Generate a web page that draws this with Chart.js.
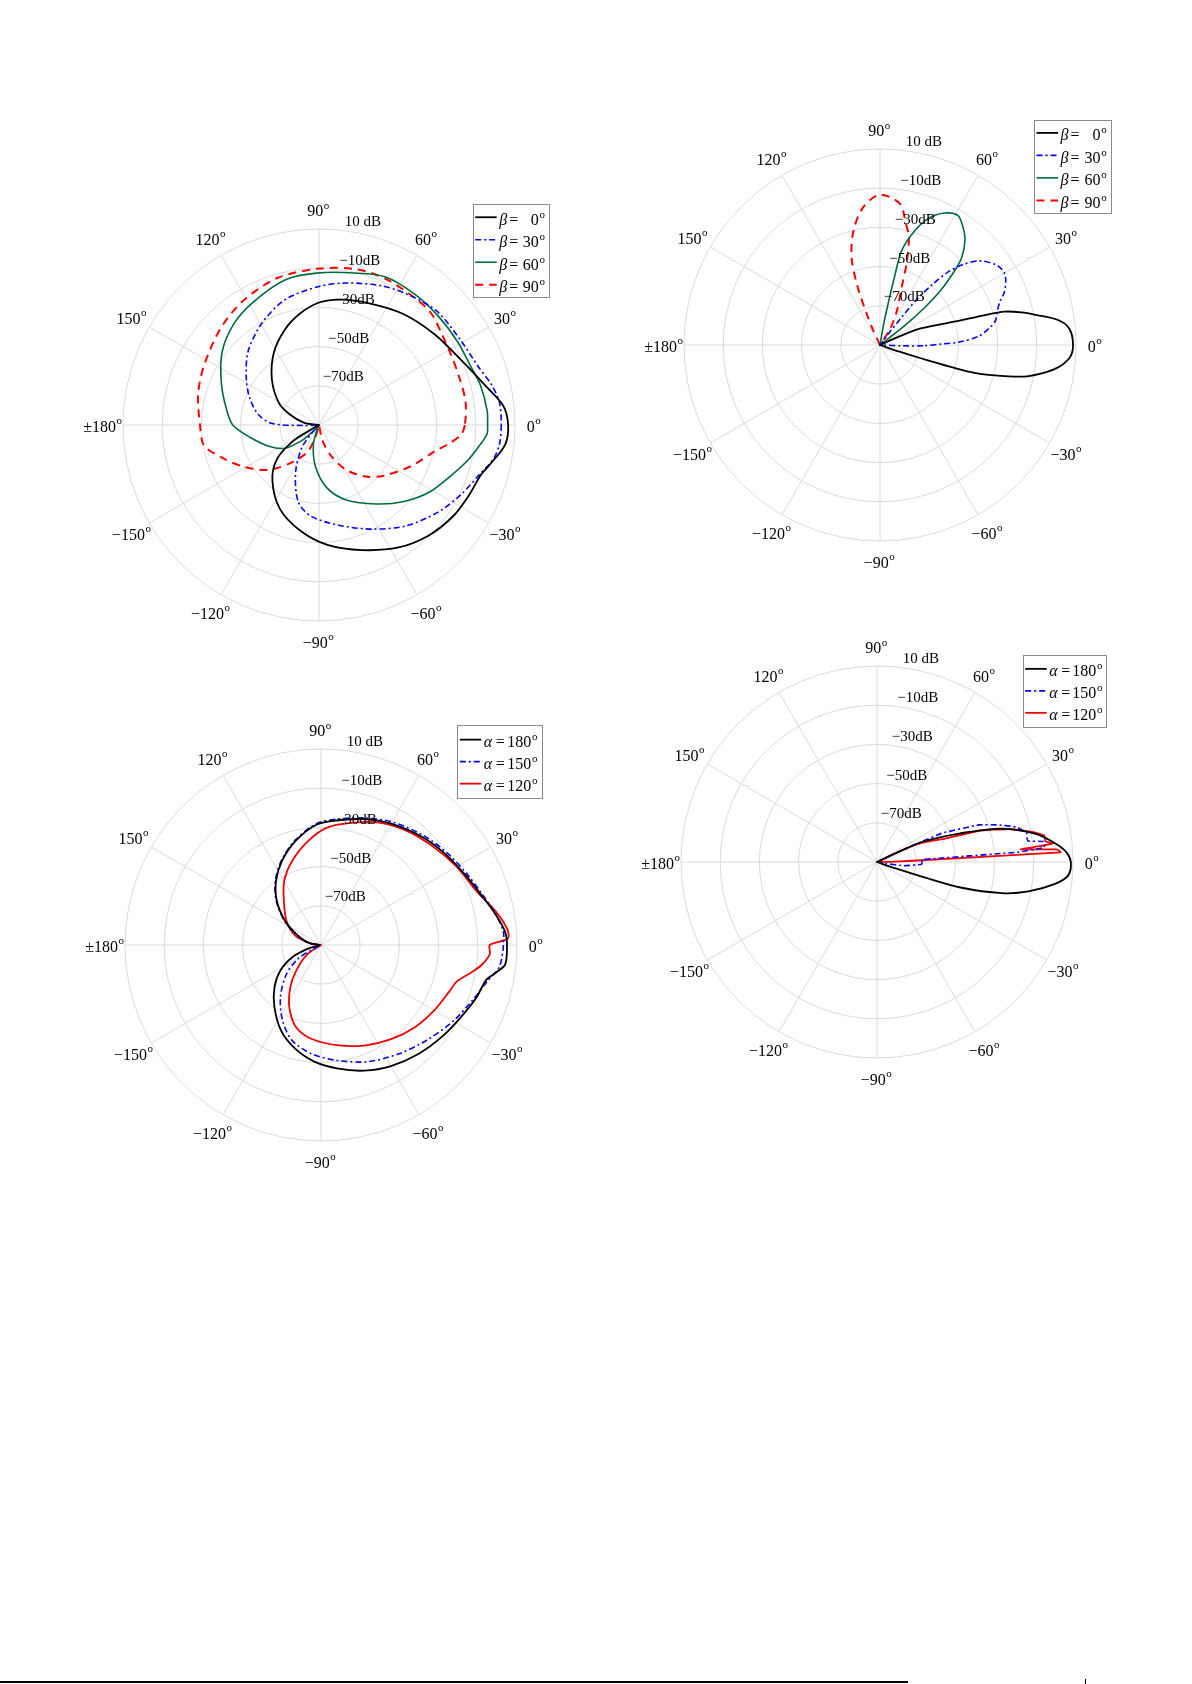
<!DOCTYPE html>
<html>
<head>
<meta charset="utf-8">
<script src="https://cdn.jsdelivr.net/npm/chart.js@4/dist/chart.umd.min.js"></script>
<style>
html,body{margin:0;padding:0;background:#fff;}
body{width:1192px;height:1684px;position:relative;overflow:hidden;}
canvas{position:absolute;}
#rule{position:absolute;left:0;top:1681px;width:908px;height:2px;background:#000;}
#tick{position:absolute;left:1085px;top:1679px;width:1px;height:5px;background:#000;}
</style>
</head>
<body>
<canvas id="tl" width="596" height="640" style="left:0px;top:105px"></canvas>
<canvas id="tr" width="596" height="640" style="left:596px;top:25px"></canvas>
<canvas id="bl" width="596" height="640" style="left:0px;top:625px"></canvas>
<canvas id="br" width="596" height="640" style="left:596px;top:542px"></canvas>
<div id="rule"></div><div id="tick"></div>
<script>
// ---------- axis definitions ----------
const ANGLE_TICKS = [0, 30, 60, 90, 120, 150, 180, -150, -120, -90, -60, -30];
const ANGLE_TEXT  = ['0', '30', '60', '90', '120', '150', '\u00b1180', '\u2212150', '\u2212120', '\u221290', '\u221260', '\u221230'];
const RING_VALUES = [10, -10, -30, -50, -70];
const RING_TEXT   = ['10 dB', '\u221210dB', '\u221230dB', '\u221250dB', '\u221270dB'];
const R_MIN = -90, R_MAX = 10, R_STEP = 20;

// ---------- legend values ----------
const BETA_VALUES  = ['0', '30', '60', '90'];
const ALPHA_VALUES = ['180', '150', '120'];

// ---------- series: [angle in degrees, level in dB] ----------
// Top-left
const TL_BETA0 = [[0,6.5],[6,4.5],[13,-2.5],[24,-10],[38,-15.0],[53,-18.9],[68,-22.9],[80,-25],[90,-27.5],[100,-32.5],[110,-38.5],[122,-46.5],[136,-56.6],[151,-66.5],[160,-74],[171,-82.1],[177,-89],[180,-90],[-153,-90],[-150,-84],[-148,-74],[-141,-62.4],[-130,-53.0],[-115,-42.8],[-100,-35.2],[-86,-28.7],[-71,-22.5],[-57,-15.5],[-45,-10.5],[-34,-7.2],[-25,-5.5],[-17,-3.5],[-13,-0.5],[-6,5.5]];
const TL_BETA30 = [[0,3.0],[7,2.8],[13,0.5],[20,-3.4],[31,-5.8],[44,-6.4],[56,-9.5],[66,-12.2],[79,-16.2],[90,-19.3],[105,-23.7],[119,-30.3],[134,-37.9],[148,-46.3],[159,-52.2],[170,-58.5],[178,-65.6],[-178,-82],[-176,-90],[-134,-90],[-131,-84],[-127,-75.2],[-116,-62.7],[-105,-49.3],[-95,-43.3],[-79,-37.9],[-63,-30.4],[-49,-21.9],[-36,-14.6],[-26,-9.3],[-17,-4.2],[-11,0.7],[-6,2.6]];
const TL_BETA60 = [[0,-4.0],[5,-3.9],[14,-5.2],[21,-7.0],[31,-7.5],[43,-7.6],[54,-7.3],[66,-7.2],[77,-10.4],[90,-12.4],[103,-13.9],[118,-18.8],[130,-22.5],[143,-28.1],[157,-35.9],[170,-42],[180,-46],[-170,-54.2],[-157,-62.3],[-146,-68.8],[-137,-79.3],[-131,-88],[-125,-90],[-113,-88],[-106,-79.6],[-95,-68.9],[-83,-57.8],[-70,-49.3],[-54,-40.2],[-42,-31.7],[-31,-23.9],[-20,-17.2],[-13,-11.7],[-7,-7.2],[-3,-4.1]];
const TL_BETA90 = [[0,-15.6],[9,-14.3],[19,-14.4],[28,-13.7],[37,-11.9],[45,-9.2],[53,-8.8],[65,-8.1],[76,-8.2],[90,-10.2],[106,-12.1],[122,-15.9],[136,-19.8],[153,-24.0],[166,-26.4],[180,-29.3],[-170,-30.4],[-161,-38.1],[-150,-46.8],[-138,-55.8],[-126,-66.4],[-113,-75.1],[-107,-83.3],[-102,-90],[-82,-90],[-77,-81.5],[-69,-73.4],[-59,-63.4],[-48,-54.6],[-38,-48],[-24,-38.5],[-13,-29.7],[-8,-22.8],[-4,-17.4]];
// Top-right
const TR_BETA0 = [[-21,-90],[-19,-79.9],[-18,-67.7],[-17,-47.5],[-16,-36],[-14,-24.4],[-12,-13.2],[-8,-0.4],[-4,6.8],[0,8.5],[5,6.9],[8,1.7],[11,-9.2],[13,-16],[15,-24.2],[16,-35],[17,-47.5],[22,-67.1],[24,-79.5],[26,-90]];
const TR_BETA30 = [[-4,-90],[-2,-78],[-1,-68],[1,-58],[2,-50],[5,-39.6],[9,-33.3],[12,-29.7],[16,-27.8],[20,-24.8],[23,-21.1],[27,-18],[30,-16.7],[34,-17.6],[40,-23.2],[44,-30.8],[47,-39],[49,-48.6],[51,-59.4],[52,-72],[53,-82],[55,-90]];
const TR_BETA60 = [[36,-90],[38,-75],[40,-60],[42,-48.3],[45,-35.7],[47,-28.8],[51,-21.1],[55,-16.3],[59,-12.9],[64,-15.1],[69,-20.8],[73,-28.9],[77,-40.3],[78,-54.4],[79,-70.1],[80,-78.8],[82,-90]];
const TR_BETA90 = [[52,-90],[58,-80],[64,-70],[69,-60],[72,-46],[75,-33],[78,-26.6],[82,-17.2],[90,-13.3],[97,-19.3],[103,-30],[108,-43],[111,-58],[113,-72],[115,-82],[118,-90]];
// Bottom-left
const BL_ALPHA180 = [[0,4.9],[4,4.2],[10,0.4],[18,-4.7],[26,-8.2],[36,-11.3],[47,-14.5],[60,-18.5],[71,-22.1],[82,-25.8],[92,-28.5],[104,-35.5],[115,-42.8],[125,-50],[135,-58.1],[146,-67.7],[156,-76.1],[169,-83],[178,-89],[-172,-89],[-164,-82.8],[-157,-74.1],[-148,-65.6],[-138,-58.1],[-127,-50.5],[-115,-41.8],[-104,-35.5],[-93,-30.3],[-82,-26.3],[-71,-22.2],[-60,-18.7],[-48,-15.4],[-37,-12.5],[-27,-9.6],[-19,-6.4],[-12,-3.9],[-9,0.3],[-6,4.5]];
const BL_ALPHA150 = [[0,3.0],[4,3.3],[10,0.5],[18,-4],[26,-7.2],[36,-10.3],[47,-13.5],[60,-17.5],[71,-21.5],[82,-25],[92,-28],[104,-35],[115,-42.3],[125,-49.5],[135,-57.6],[146,-67.2],[156,-75.6],[169,-82.5],[178,-89],[-160,-90],[-153,-84.5],[-149,-76.3],[-140,-67],[-128,-56.4],[-117,-46.8],[-107,-39.2],[-95,-34.3],[-82,-30.5],[-68,-25.8],[-54,-21.6],[-42,-17.4],[-30,-12.2],[-20,-7.7],[-12,-2.9],[-7,1.7],[-1,3]];
const BL_ALPHA120 = [[2,5.4],[5,5.3],[11,0.7],[19,-6],[30,-10.1],[41,-13.8],[53,-17.1],[64,-20.6],[75,-25.4],[87,-30],[97,-36.5],[109,-44.7],[120,-52.4],[130,-60.5],[145,-68.5],[160,-76],[172,-85],[180,-90],[-155,-90],[-146,-81.8],[-134,-71.7],[-126,-63.4],[-117,-54.4],[-107,-46.2],[-96,-41.9],[-80,-38],[-66,-34],[-53,-30],[-41,-26.3],[-30,-23.3],[-20,-20.4],[-15,-18.2],[-10,-11.6],[-7,-7.3],[-3,-3.7],[0,-3.9]];
// Bottom-right
const BR_ALPHA180 = [[-21,-90],[-19,-79.9],[-18,-65.5],[-17,-45.5],[-14,-24.4],[-11,-11.3],[-7,1.5],[-4,7.8],[0,8.9],[3,6.7],[6,1.3],[10,-7.7],[15,-24.1],[19,-45],[24,-64.6],[25,-77.2],[26,-90]];
const BR_ALPHA150 = [[-12,-90],[-10,-85],[-8,-76.4],[-3,-67.2],[0,-67],[3,-67],[4,-18.3],[5,-4.3],[7,-4.4],[8,-12.4],[11,-12.3],[14,-16.5],[17,-25.3],[20,-34.6],[24,-54.1],[25,-75.1],[27,-90]];
const BR_ALPHA120 = [[-2,-90],[0,-88],[1,-84],[2,-72],[3,3.8],[4,2.0],[5,-16.4],[6,0.2],[7,-3.4],[9,-3.6],[11,-9.4],[14,-20.4],[17,-35.5],[19,-53.2],[23,-64.8],[25,-76],[26,-90]];

// ---------- helpers ----------
const N_LABELS = 360;
const FONT = '"Liberation Serif", "Times New Roman", serif';
const toIndex = a => ((-a % 360) + 360) % 360;       // math angle -> radar index (startAngle 90, clockwise)
function radarData(pairs) {
  const arr = new Array(N_LABELS).fill(null);
  pairs.forEach(([a, v]) => { arr[toIndex(a)] = v; });
  return arr;
}

const STYLE = {
  black: {borderColor: '#000000', borderWidth: 1.8, borderDash: []},
  blue:  {borderColor: '#0000ff', borderWidth: 1.6, borderDash: [6, 3, 2, 3]},
  green: {borderColor: '#006b3c', borderWidth: 1.6, borderDash: []},
  redDash: {borderColor: '#ff0000', borderWidth: 2, borderDash: [8, 6]},
  red:   {borderColor: '#f00000', borderWidth: 1.8, borderDash: []}
};

const polarDecor = {
  id: 'polarDecor',
  afterDatasetsDraw(chart, args, opts) {
    const s = chart.scales.r;
    const ctx = chart.ctx;
    ctx.save();
    ctx.fillStyle = '#000';
    ctx.textAlign = 'left';
    ctx.textBaseline = 'alphabetic';
    // angle labels at 1.1 R
    ANGLE_TICKS.forEach((a, k) => {
      const p = s.getPointPosition(toIndex(a), s.drawingArea * 1.1);
      ctx.font = '16px ' + FONT;
      const main = ANGLE_TEXT[k];
      const w1 = ctx.measureText(main).width;
      ctx.font = '11px ' + FONT;
      const w2 = ctx.measureText('o').width;
      const x0 = p.x - (w1 + w2) / 2 - 1;
      const base = p.y + 7;
      ctx.font = '16px ' + FONT;
      ctx.fillText(main, x0, base);
      ctx.font = '11px ' + FONT;
      ctx.fillText('o', x0 + w1 + 0.5, base - 7.8);
    });
    // ring labels at 82 degrees
    ctx.font = '15px ' + FONT;
    RING_VALUES.forEach((v, k) => {
      const p = s.getPointPositionForValue(toIndex(82), v);
      ctx.fillText(RING_TEXT[k], p.x - 1.6, p.y - 4.8);
    });
    // legend
    const L = opts.legend;
    ctx.fillStyle = '#fff';
    ctx.fillRect(L.x, L.y, L.w, L.h);
    ctx.strokeStyle = '#8a8a8a';
    ctx.lineWidth = 1;
    ctx.setLineDash([]);
    ctx.strokeRect(Math.round(L.x) + 0.5, Math.round(L.y) + 0.5, Math.round(L.w), Math.round(L.h));
    const ds = chart.data.datasets;
    const pad = (L.h - (ds.length - 1) * L.gap) / 2;
    ds.forEach((d, i) => {
      const y = L.y + pad + i * L.gap;
      ctx.strokeStyle = d.borderColor;
      ctx.lineWidth = d.borderWidth;
      ctx.setLineDash(d.borderDash || []);
      ctx.beginPath();
      ctx.moveTo(L.x + 2.5, y);
      ctx.lineTo(L.x + 24, y);
      ctx.stroke();
      ctx.setLineDash([]);
      ctx.fillStyle = '#000';
      ctx.textAlign = 'left';
      ctx.font = 'italic 16px ' + FONT;
      ctx.fillText(L.greek, L.x + 26.5, y + 7.5);
      ctx.font = '16px ' + FONT;
      ctx.fillText('=', L.x + L.eqX, y + 7.5);
      ctx.textAlign = 'right';
      ctx.fillText(d.label, L.x + L.numRight, y + 7.5);
      ctx.textAlign = 'left';
      ctx.font = '11px ' + FONT;
      ctx.fillText('o', L.x + L.numRight + 0.8, y + 0.3);
    });
    ctx.restore();
  }
};

function makeChart(id, cx, series, legend) {
  const R = 196, CY = 320, W = 596, H = 640;
  return new Chart(document.getElementById(id), {
    type: 'radar',
    data: {
      labels: Array.from({length: N_LABELS}, (_, i) => String(i)),
      datasets: series.map(s => Object.assign({
        label: s.label,
        data: radarData(s.pairs),
        fill: false,
        pointRadius: 0,
        pointHoverRadius: 0,
        spanGaps: true,
        tension: s.tension,
        borderJoinStyle: 'round'
      }, s.style))
    },
    options: {
      responsive: false,
      animation: false,
      events: [],
      layout: {padding: {left: cx - R, right: W - cx - R, top: CY - R, bottom: H - CY - R}},
      plugins: {legend: {display: false}, tooltip: {enabled: false}, polarDecor: {legend}},
      scales: {
        r: {
          min: R_MIN, max: R_MAX,
          startAngle: 90,
          ticks: {display: false, stepSize: R_STEP},
          pointLabels: {display: false},
          grid: {circular: true, color: '#dadada', lineWidth: 1},
          angleLines: {
            color: '#dadada',
            lineWidth: c => (c.index % 30 === 0 ? 1 : 0)
          }
        }
      }
    },
    plugins: [polarDecor]
  });
}

makeChart('tl', 319, [
  {label: BETA_VALUES[0], pairs: TL_BETA0, style: STYLE.black, tension: 0.3},
  {label: BETA_VALUES[1], pairs: TL_BETA30, style: STYLE.blue, tension: 0.3},
  {label: BETA_VALUES[2], pairs: TL_BETA60, style: STYLE.green, tension: 0.3},
  {label: BETA_VALUES[3], pairs: TL_BETA90, style: STYLE.redDash, tension: 0.3}
], {x: 472.7, y: 99.3, w: 75.6, h: 93.4, gap: 22.5, greek: '\u03b2', eqX: 36.5, numRight: 66});

makeChart('tr', 284, [
  {label: BETA_VALUES[0], pairs: TR_BETA0, style: STYLE.black, tension: 0.3},
  {label: BETA_VALUES[1], pairs: TR_BETA30, style: STYLE.blue, tension: 0.3},
  {label: BETA_VALUES[2], pairs: TR_BETA60, style: STYLE.green, tension: 0.3},
  {label: BETA_VALUES[3], pairs: TR_BETA90, style: STYLE.redDash, tension: 0.3}
], {x: 438, y: 95, w: 77, h: 93.3, gap: 22.5, greek: '\u03b2', eqX: 36.5, numRight: 66.5});

makeChart('bl', 321, [
  {label: ALPHA_VALUES[0], pairs: BL_ALPHA180, style: STYLE.black, tension: 0.3},
  {label: ALPHA_VALUES[1], pairs: BL_ALPHA150, style: STYLE.blue, tension: 0.3},
  {label: ALPHA_VALUES[2], pairs: BL_ALPHA120, style: STYLE.red, tension: 0.3}
], {x: 457.3, y: 100, w: 85, h: 73.3, gap: 22, greek: '\u03b1', eqX: 38.5, numRight: 74});

makeChart('br', 281, [
  {label: ALPHA_VALUES[0], pairs: BR_ALPHA180, style: STYLE.black, tension: 0.3},
  {label: ALPHA_VALUES[1], pairs: BR_ALPHA150, style: STYLE.blue, tension: 0.1},
  {label: ALPHA_VALUES[2], pairs: BR_ALPHA120, style: STYLE.red, tension: 0.1}
], {x: 426.7, y: 113, w: 83.3, h: 71.7, gap: 22, greek: '\u03b1', eqX: 38.5, numRight: 73.5});
</script>
</body>
</html>
